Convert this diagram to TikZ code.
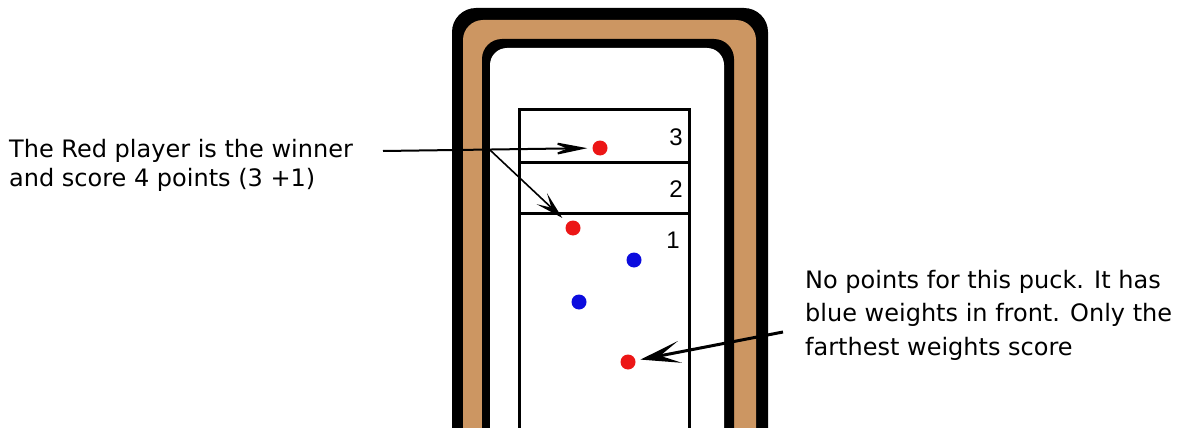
\documentclass[tikz,border=0pt]{standalone}
\usepackage{fontspec}
\setmainfont{DejaVu Sans}
\newfontfamily\zonefont{Liberation Sans}
\usetikzlibrary{arrows.meta}

\definecolor{boardwood}{RGB}{204,150,98}
\definecolor{puckred}{RGB}{236,22,22}
\definecolor{puckblue}{RGB}{12,12,222}

\tikzset{
  puck/.style={circle, inner sep=0pt, minimum size=15pt},
  redpuck/.style={puck, fill=puckred},
  bluepuck/.style={puck, fill=puckblue},
  zoneline/.style={line width=3pt, black},
  zonenum/.style={font=\zonefont\fontsize{24}{24}\selectfont, anchor=base east, inner sep=0pt},
  caption/.style={font=\fontsize{24}{29}\selectfont, align=left, anchor=base west, inner sep=0pt},
  pointer/.style={black, shorten >=5pt},
}

\begin{document}
\begin{tikzpicture}[x=1pt, y=-1pt]
  \useasboundingbox (0,0) rectangle (1179,428);
  \clip (0,0) rectangle (1179,428);
  \fill[white] (0,0) rectangle (1179,428);

  % board rails: black edge, wooden band, black edge, playing surface
  \fill[black, rounded corners=24pt] (452,8) rectangle (768,480);
  \fill[boardwood, rounded corners=20pt] (463,20) rectangle (756,480);
  \fill[black, rounded corners=20pt] (482,39) rectangle (734,480);
  \fill[white, rounded corners=17pt] (490,48) rectangle (724,480);

  % scoring zones
  \draw[zoneline] (519,480) -- (519,110) -- (689,110) -- (689,480);
  \draw[zoneline] (519,162) -- (689,162);
  \draw[zoneline] (519,213) -- (689,213);
  \node[zonenum] (z3) at (683,145) {3};
  \node[zonenum] (z2) at (683,197) {2};
  \node[zonenum] (z1) at (680,248) {1};

  % pucks
  \node[redpuck]  (r1) at (600,148) {};
  \node[redpuck]  (r2) at (573,228) {};
  \node[bluepuck] (b1) at (634,260) {};
  \node[bluepuck] (b2) at (579,302) {};
  \node[redpuck]  (r3) at (628,362) {};

  % captions (base anchor sits on the last line)
  \node[caption] (winner) at (9,186) {The Red player is the winner\\and score 4 points (3 +1)};
  \node[caption, font=\fontsize{24}{33.5}\selectfont] (nopoints) at (805,355)
    {No points for this puck. It has\\blue weights in front. Only the\\farthest weights score};

  % pointers
  \coordinate (wstart) at (383,151);
  \coordinate (wfork) at (490,150);
  \coordinate (nstart) at (783,332);
  \draw[pointer, line width=2pt, -{Stealth[length=40pt, width=16pt, inset=20pt]}] (wstart) -- (r1);
  \draw[pointer, line width=1.6pt, shorten >=7pt, -{Stealth[length=28pt, width=15pt, inset=13pt]}] (wfork) -- (r2);
  \draw[pointer, line width=3pt, -{Stealth[length=40pt, width=22pt, inset=20pt]}] (nstart) -- (r3);
\end{tikzpicture}
\end{document}
